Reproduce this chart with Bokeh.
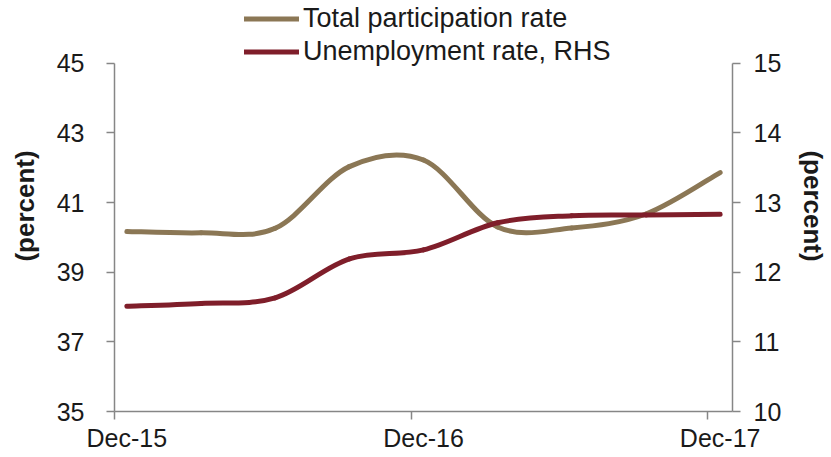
from bokeh.plotting import figure
from bokeh.models import Range1d, LinearAxis, FixedTicker, Legend, LegendItem, ColumnDataSource
from bokeh.embed import file_html
from bokeh.resources import INLINE

# ---- data ----
quarters = ["Dec-15", "Mar-16", "Jun-16", "Sep-16", "Dec-16", "Mar-17", "Jun-17", "Sep-17", "Dec-17"]
participation = [40.17, 40.13, 40.26, 42.03, 42.22, 40.30, 40.27, 40.67, 41.86]
unemployment = [11.51, 11.55, 11.63, 12.19, 12.32, 12.71, 12.81, 12.82, 12.83]
x_tick_labels = ["Dec-15", "Dec-16", "Dec-17"]
left_ticks = [35, 37, 39, 41, 43, 45]
right_ticks = [10, 11, 12, 13, 14, 15]

# months since Dec-15 for each quarterly observation
month_index = [3 * i for i in range(len(quarters))]
label_positions = [month_index[quarters.index(lbl)] for lbl in x_tick_labels]

FONT = "Liberation Sans"
AXIS_GREY = "#868686"
TEXT = "#1a1a1a"
C_PART = "#8B7755"
C_UNEMP = "#7F1E2A"

# layout (pixels): the frame runs from the canvas top to the x axis; the value
# axes are bounded to their tick range, leaving room above for the legend
W, H = 831, 457
B_LEFT, B_RIGHT, B_BOTTOM = 114, 99, 46
FRAME_H = H - B_BOTTOM
AXIS_TOP_PX = 62.7          # where the highest tick sits, from the canvas top
frac_top = AXIS_TOP_PX / (FRAME_H - AXIS_TOP_PX)


def smooth_segments(xs, ys):
    """Bezier control points (Catmull-Rom style) through the data points."""
    n = len(xs)
    d = dict(x0=[], y0=[], x1=[], y1=[], cx0=[], cy0=[], cx1=[], cy1=[])
    for i in range(n - 1):
        ip = max(i - 1, 0)
        inn = min(i + 2, n - 1)
        d["x0"].append(xs[i]); d["y0"].append(ys[i])
        d["x1"].append(xs[i + 1]); d["y1"].append(ys[i + 1])
        d["cx0"].append(xs[i] + (xs[i + 1] - xs[ip]) / 6.0)
        d["cy0"].append(ys[i] + (ys[i + 1] - ys[ip]) / 6.0)
        d["cx1"].append(xs[i + 1] - (xs[inn] - xs[i]) / 6.0)
        d["cy1"].append(ys[i + 1] - (ys[inn] - ys[i]) / 6.0)
    return ColumnDataSource(d)


lmin, lmax = left_ticks[0], left_ticks[-1]
rmin, rmax = right_ticks[0], right_ticks[-1]

p = figure(width=W, height=H, output_backend="svg", toolbar_location=None,
           x_range=Range1d(-0.5, 24.5),
           y_range=Range1d(lmin, lmax + (lmax - lmin) * frac_top),
           min_border_left=B_LEFT, min_border_right=B_RIGHT, min_border_top=0,
           min_border_bottom=B_BOTTOM)
p.extra_y_ranges = {"right": Range1d(rmin, rmax + (rmax - rmin) * frac_top)}
p.outline_line_color = None
p.xgrid.visible = False
p.ygrid.visible = False
p.background_fill_color = "white"
p.border_fill_color = "white"

r1 = p.bezier(x0="x0", y0="y0", x1="x1", y1="y1", cx0="cx0", cy0="cy0", cx1="cx1", cy1="cy1",
              source=smooth_segments(month_index, participation),
              line_color=C_PART, line_width=5, line_cap="round")
r2 = p.bezier(x0="x0", y0="y0", x1="x1", y1="y1", cx0="cx0", cy0="cy0", cx1="cx1", cy1="cy1",
              source=smooth_segments(month_index, unemployment),
              line_color=C_UNEMP, line_width=5, line_cap="round", y_range_name="right")

# x axis: tick marks at category boundaries, labels centred on the category
xa = p.xaxis[0]
xa.ticker = FixedTicker(ticks=label_positions, minor_ticks=[v - 0.5 for v in label_positions])
xa.major_label_overrides = {v: lbl for v, lbl in zip(label_positions, x_tick_labels)}
xa.major_tick_out = 8
xa.major_tick_in = 0
xa.major_tick_line_color = None
xa.minor_tick_out = 8
xa.minor_tick_in = 0
xa.minor_tick_line_color = AXIS_GREY
xa.minor_tick_line_width = 1.5
xa.axis_line_color = AXIS_GREY
xa.axis_line_width = 1.5
xa.major_label_standoff = 4
xa.major_label_text_font = FONT
xa.major_label_text_font_size = "25px"
xa.major_label_text_color = TEXT

# left axis
ya = p.yaxis[0]
ya.ticker = FixedTicker(ticks=left_ticks, minor_ticks=[])
ya.bounds = (lmin, lmax)
ya.major_tick_out = 8
ya.major_tick_in = 0
ya.major_tick_line_color = AXIS_GREY
ya.major_tick_line_width = 1.5
ya.minor_tick_line_color = None
ya.axis_line_color = AXIS_GREY
ya.axis_line_width = 1.5
ya.major_label_standoff = 22
ya.major_label_text_font = FONT
ya.major_label_text_font_size = "25px"
ya.major_label_text_color = TEXT
ya.axis_label = "(percent)"
ya.axis_label_text_font = FONT
ya.axis_label_text_font_size = "26px"
ya.axis_label_text_font_style = "bold"
ya.axis_label_text_color = TEXT
ya.axis_label_standoff = 14

# right axis
yr = LinearAxis(y_range_name="right", ticker=FixedTicker(ticks=right_ticks, minor_ticks=[]),
                bounds=(rmin, rmax))
yr.major_tick_out = 8
yr.major_tick_in = 0
yr.major_tick_line_color = AXIS_GREY
yr.major_tick_line_width = 1.5
yr.minor_tick_line_color = None
yr.axis_line_color = AXIS_GREY
yr.axis_line_width = 1.5
yr.major_label_standoff = 13
yr.major_label_text_font = FONT
yr.major_label_text_font_size = "25px"
yr.major_label_text_color = TEXT
yr.axis_label = "(percent)"
yr.axis_label_text_font = FONT
yr.axis_label_text_font_size = "26px"
yr.axis_label_text_font_style = "bold"
yr.axis_label_text_color = TEXT
yr.axis_label_standoff = 14
p.add_layout(yr, "right")

legend = Legend(items=[LegendItem(label="Total participation rate", renderers=[r1], index=0),
                       LegendItem(label="Unemployment rate, RHS", renderers=[r2], index=0)],
                location=(130, FRAME_H - 67.8), orientation="vertical",
                padding=0, margin=0, spacing=0,
                glyph_width=55, glyph_height=33, label_height=33, label_standoff=4,
                label_text_font=FONT, label_text_font_size="27px", label_text_color=TEXT,
                border_line_color=None, background_fill_alpha=0)
p.add_layout(legend, "center")

open("out.html", "w").write(file_html(p, INLINE))
